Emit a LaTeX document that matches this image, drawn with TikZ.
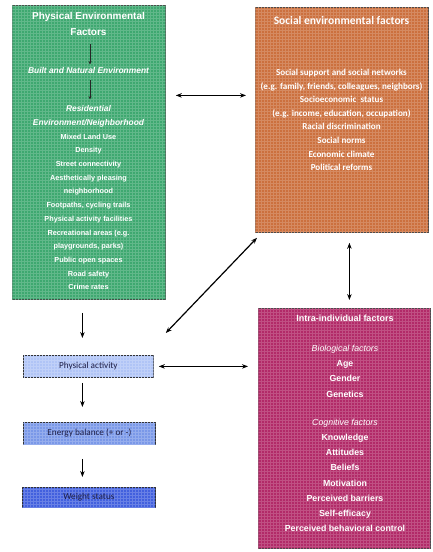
\documentclass[tikz,border=0pt]{standalone}
\usepackage{fontspec}
\setmainfont{Liberation Sans}
\newfontfamily\calib{Carlito}
\usetikzlibrary{arrows.meta,patterns}
\definecolor{greenbox}{RGB}{62,168,112}
\definecolor{orangebox}{RGB}{204,112,62}
\definecolor{magbox}{RGB}{178,42,104}
\definecolor{paBlue}{RGB}{176,196,246}
\definecolor{ebBlue}{RGB}{122,152,232}
\definecolor{wsBlue}{RGB}{66,96,222}
\definecolor{navytext}{RGB}{30,30,70}
\tikzset{
  bigbox/.style={draw=black!70, line width=0.8pt, anchor=north west, inner sep=0pt,
    fill=#1, postaction={pattern=grid, pattern color=white!18!#1}},
  chainbox/.style={draw=black!80, line width=0.8pt, anchor=north west, inner sep=0pt,
    text=navytext, font=\calib\fontsize{9.2}{10}\selectfont,
    fill=#1, postaction={pattern=grid, pattern color=white!20!#1}},
  boxtext/.style={text=white, align=center, inner sep=0pt, anchor=north},
  arr/.style={-{Stealth[length=6pt,width=4.5pt]}, line width=1pt},
  dbl/.style={{Stealth[length=6pt,width=4.5pt]}-{Stealth[length=6pt,width=4.5pt]}, line width=1.2pt},
  smallarr/.style={-{Stealth[length=3.5pt,width=3pt]}, line width=0.6pt, draw=black!85}
}
\begin{document}
\begin{tikzpicture}[x=1pt,y=-1pt]
\useasboundingbox[fill=white] (0,0) rectangle (432,552);

% Green box
\node[bigbox=greenbox, minimum width=153pt, minimum height=294pt] (green) at (12,5) {};
\node[boxtext, font=\bfseries\fontsize{10}{16}\selectfont] (gtitle) at (88.5,12) {Physical Environmental\\Factors};
\node[boxtext, font=\bfseries\itshape\fontsize{8.4}{9}\selectfont] (gbuilt) at (88.5,67.5) {Built and Natural Environment};
\node[boxtext, font=\bfseries\fontsize{7.3}{13.7}\selectfont] (glist) at (88.5,105.5) {{\itshape\fontsize{8.4}{13.7}\selectfont Residential}\\{\itshape\fontsize{8.4}{13.7}\selectfont Environment/Neighborhood}\\Mixed Land Use\\Density\\Street connectivity\\Aesthetically pleasing\\neighborhood\\Footpaths, cycling trails\\Physical activity facilities\\Recreational areas (e.g.\\playgrounds, parks)\\Public open spaces\\Road safety\\Crime rates};
\draw[smallarr, shorten <=8pt, shorten >=3pt] ([xshift=1.5pt]gtitle.south) -- ([xshift=1.5pt]gbuilt.north);
\draw[smallarr, shorten <=6pt, shorten >=6pt] ([xshift=1.5pt]gbuilt.south) -- ([xshift=1.5pt]glist.north);

% Orange box
\node[bigbox=orangebox, minimum width=173pt, minimum height=225pt] (orange) at (255,7) {};
\node[boxtext, font=\calib\bfseries\fontsize{11.5}{12}\selectfont] (otitle) at (341.5,16) {Social environmental factors};
\node[boxtext, font=\calib\bfseries\fontsize{9.1}{13.6}\selectfont] (olist) at (341.5,69) {Social support and social networks\\(e.g. family, friends, colleagues, neighbors)\\Socioeconomic\ \ status\\(e.g. income, education, occupation)\\Racial discrimination\\Social norms\\Economic climate\\Political reforms};

% Magenta box
\node[bigbox=magbox, minimum width=172pt, minimum height=240pt] (mag) at (258,308) {};
\node[boxtext, font=\bfseries\fontsize{9}{10}\selectfont] (mtitle) at (345,315) {Intra-individual factors};
\node[boxtext, font=\bfseries\fontsize{8.8}{15.2}\selectfont] (mlist) at (345,345) {{\mdseries\itshape Biological factors}\\Age\\Gender\\Genetics\\[13pt]{\mdseries\itshape Cognitive factors}\\Knowledge\\Attitudes\\Beliefs\\Motivation\\Perceived barriers\\Self-efficacy\\Perceived behavioral control};

% Left chain
\node[chainbox=paBlue, minimum width=130pt, minimum height=22pt] (pa) at (23,355) {Physical activity};
\node[chainbox=ebBlue, minimum width=132pt, minimum height=22pt] (eb) at (23,422) {Energy balance (+ or -)};
\node[chainbox=wsBlue, minimum width=133pt, minimum height=20pt] (ws) at (22,487) {Weight status};

% Connectors
\draw[dbl, shorten <=10pt, shorten >=9pt] ([yshift=57pt]green.east) -- ([yshift=57pt]green.east -| orange.west);
\draw[dbl, shorten <=10pt, shorten >=8pt] ([xshift=7.5pt]orange.south) -- ([xshift=7.5pt]orange.south |- mag.north);
\draw[dbl] ([shift={(2pt,-5pt)}]orange.south west) -- ([shift={(12pt,22pt)}]pa.north east);
\draw[dbl, shorten <=5pt, shorten >=10pt] (pa.east) -- (pa.east -| mag.west);
\draw[arr, shorten <=13pt, shorten >=17pt] ([xshift=-6.5pt]green.south) -- ([xshift=-6.5pt]green.south |- pa.north);
\draw[arr, shorten <=5pt, shorten >=15pt] ([xshift=-6pt]pa.south) -- ([xshift=-6pt]pa.south |- eb.north);
\draw[arr, shorten <=14pt, shorten >=10pt] ([xshift=-7pt]eb.south) -- ([xshift=-7pt]eb.south |- ws.north);
\end{tikzpicture}
\end{document}
